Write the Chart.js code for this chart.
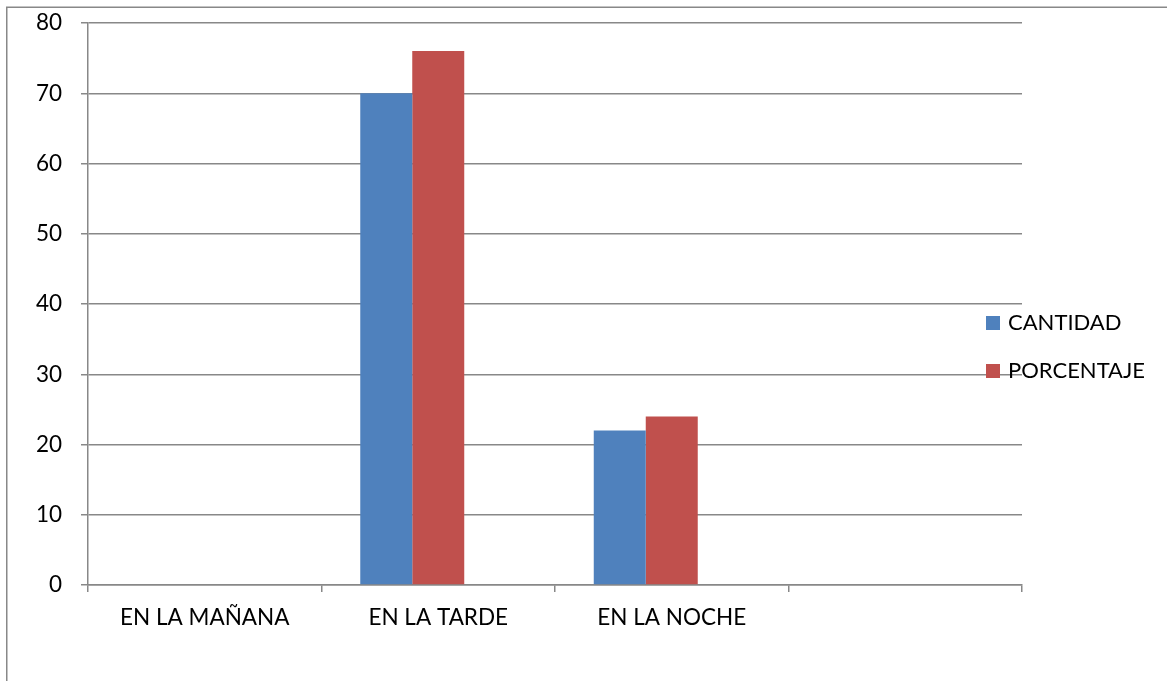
<!DOCTYPE html>
<html>
<head>
<meta charset="utf-8">
<script src="https://cdn.jsdelivr.net/npm/chart.js@4"></script>
<style>
  html, body { margin: 0; padding: 0; background: #fff; }
  #wrap { width: 1167px; height: 681px; }
</style>
</head>
<body>
<div id="wrap"><canvas id="myChart" width="1167" height="681"></canvas></div>
<script>
const categories = ['EN LA MAÑANA', 'EN LA TARDE', 'EN LA NOCHE', ''];
const cantidad = [0, 70, 22, null];
const porcentaje = [0, 76, 24, null];
// third series exists in the sheet but holds no values; it still takes a slot in each group
const vacio = [null, null, null, null];
const seriesNames = ['CANTIDAD', 'PORCENTAJE', ''];
const seriesColors = ['#4F81BD', '#C0504D', '#9BBB59'];

const FONT = 'Lato, "Open Sans", sans-serif';
const axisGray = '#888888';

// frame around the whole chart object (only the top and left edges are visible)
const frame = {
    id: 'frame',
    beforeDraw(chart) {
        const ctx = chart.ctx;
        ctx.save();
        ctx.strokeStyle = axisGray;
        ctx.lineWidth = 1.5;
        ctx.strokeRect(6.75, 7.25, 2000, 2000);
        ctx.restore();
    }
};

// legend sits on the right, partly over the plot
const sideLegend = {
    id: 'sideLegend',
    afterDraw(chart) {
        const ctx = chart.ctx;
        ctx.save();
        ctx.font = '22px ' + FONT;
        ctx.textBaseline = 'middle';
        chart.data.datasets.filter(ds => ds.label).forEach((ds, i) => {
            const y = 323 + i * 48;
            ctx.fillStyle = ds.backgroundColor;
            ctx.fillRect(986, y - 7, 14, 14);
            ctx.fillStyle = '#000';
            ctx.fillText(ds.label, 1008, y);
        });
        ctx.restore();
    }
};

const ctx = document.getElementById('myChart');
const myChart = new Chart(ctx, {
    type: 'bar',
    data: {
        labels: categories,
        datasets: [{
            label: seriesNames[0],
            data: cantidad,
            backgroundColor: seriesColors[0],
            borderWidth: 0
        }, {
            label: seriesNames[1],
            data: porcentaje,
            backgroundColor: seriesColors[1],
            borderWidth: 0
        }, {
            label: seriesNames[2],
            data: vacio,
            backgroundColor: seriesColors[2],
            borderWidth: 0
        }]
    },
    options: {
        responsive: false,
        animation: false,
        layout: {
            padding: { left: 0, right: 145, top: 23, bottom: 0 }
        },
        datasets: {
            bar: { barPercentage: 1, categoryPercentage: 0.668 }
        },
        plugins: {
            legend: { display: false },
            tooltip: { enabled: false }
        },
        scales: {
            x: {
                grid: {
                    offset: true,
                    drawOnChartArea: false,
                    color: axisGray,
                    lineWidth: 1.5,
                    tickLength: 7
                },
                border: { color: axisGray, width: 1.5 },
                ticks: {
                    color: '#000',
                    padding: 12,
                    maxRotation: 0,
                    font: { family: FONT, size: 22.5 }
                },
                afterFit(scale) { scale.height = 96; }
            },
            y: {
                min: 0,
                max: 80,
                ticks: {
                    stepSize: 10,
                    color: '#000',
                    padding: 19,
                    font: { family: FONT, size: 22.5 }
                },
                grid: {
                    color: axisGray,
                    lineWidth: 1.5,
                    tickLength: 7
                },
                border: { color: axisGray, width: 1.5 },
                afterFit(scale) {
                    scale.width = 88;
                    scale.paddingTop = 0;
                    scale.paddingBottom = 0;
                }
            }
        }
    },
    plugins: [frame, sideLegend]
});
</script>
</body>
</html>
